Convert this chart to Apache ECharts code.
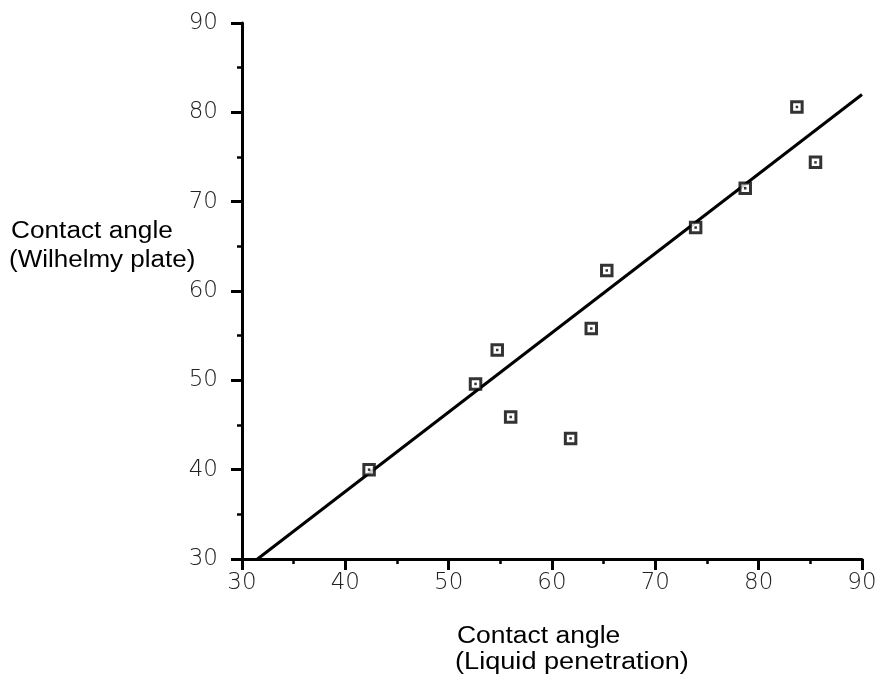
<!DOCTYPE html>
<html>
<head>
<meta charset="utf-8">
<script src="https://cdn.jsdelivr.net/npm/echarts@6/dist/echarts.min.js"></script>
<style>
  html, body { margin: 0; padding: 0; background: #fff; }
  #chart { width: 880px; height: 683px; }
</style>
</head>
<body>
<div id="chart"></div>
<script>
// Contact angle measured by liquid penetration (x) vs Wilhelmy plate (y)
const penetrationAngle = [42.3, 52.6, 54.7, 56.0, 61.8, 63.8, 65.3, 73.9, 78.7, 83.7, 85.5];
const wilhelmyAngle    = [40.0, 49.6, 53.4, 45.9, 43.5, 55.8, 62.3, 67.1, 71.5, 80.6, 74.4];

// Fitted straight line, given by its two end points
const fitX = [31.5, 90];
const fitY = [30.0, 82.0];

const axisMin = 30, axisMax = 90, axisStep = 10;

const xTitle = ['Contact angle', '(Liquid penetration)'];
const yTitle = ['Contact angle', '(Wilhelmy plate)'];

const points = penetrationAngle.map((x, i) => [x, wilhelmyAngle[i]]);
const fitLine = fitX.map((x, i) => [x, fitY[i]]);

const tickFont = { fontFamily: 'DejaVu Sans', fontWeight: 200, fontSize: 23, color: '#222' };

function valueAxis(extra) {
  return Object.assign({
    type: 'value',
    min: axisMin,
    max: axisMax,
    interval: axisStep,
    splitLine: { show: false },
    axisLine: { show: true, onZero: false, lineStyle: { color: '#000', width: 3 } },
    axisTick: { show: true, inside: false, length: 11, lineStyle: { color: '#000', width: 3 } },
    minorTick: { show: true, splitNumber: 2, length: 5, lineStyle: { color: '#000', width: 2.5 } },
    minorSplitLine: { show: false }
  }, extra);
}

// A single line of title text, slightly widened like the original lettering
function titleLine(text, x, y, stretch) {
  return {
    type: 'text', x: x, y: y, scaleX: stretch, scaleY: 1,
    style: {
      text: text, x: 0, y: 0,
      fontFamily: 'Liberation Sans', fontSize: 23, fill: '#000',
      align: 'left', verticalAlign: 'middle'
    }
  };
}

const chart = echarts.init(document.getElementById('chart'), null, { renderer: 'canvas' });
chart.setOption({
  backgroundColor: '#fff',
  animation: false,
  grid: { left: 242, right: 18, top: 23, bottom: 124, containLabel: false },
  xAxis: valueAxis({
    axisLabel: Object.assign({ margin: 13 }, tickFont)
  }),
  yAxis: valueAxis({
    axisLabel: Object.assign({ margin: 24 }, tickFont)
  }),
  series: [
    {
      type: 'line',
      data: fitLine,
      symbol: 'none',
      lineStyle: { color: '#000', width: 3 },
      z: 2
    },
    {
      type: 'scatter',
      data: points,
      symbol: 'rect',
      symbolSize: 10.5,
      itemStyle: { color: '#fff', borderColor: '#000', borderWidth: 3 },
      z: 3
    },
    {
      type: 'scatter',
      data: points,
      symbol: 'rect',
      symbolSize: 2.5,
      itemStyle: { color: '#000' },
      z: 4
    }
  ],
  graphic: [
    titleLine(yTitle[0], 11, 232, 1.14),
    titleLine(yTitle[1], 9, 261, 1.13),
    titleLine(xTitle[0], 457, 637, 1.15),
    titleLine(xTitle[1], 455, 663, 1.18)
  ]
});
</script>
</body>
</html>
